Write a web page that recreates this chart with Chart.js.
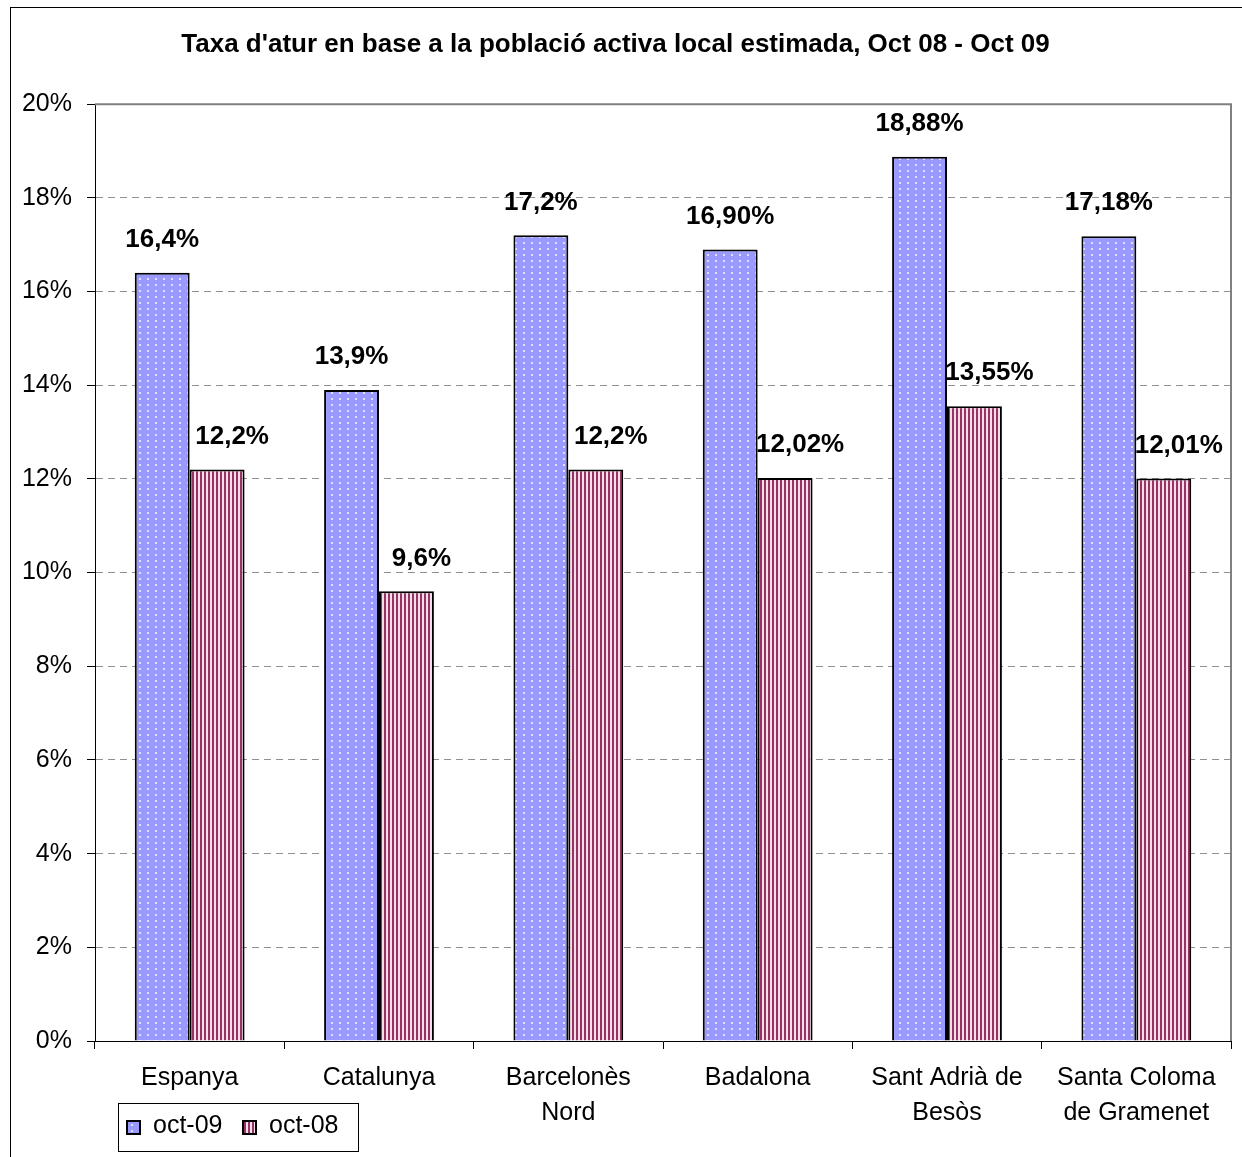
<!DOCTYPE html>
<html>
<head>
<meta charset="utf-8">
<script src="https://cdn.jsdelivr.net/npm/chart.js@4.4.1/dist/chart.umd.min.js"></script>
<style>
	html, body { margin: 0; padding: 0; background: #fff; }
	#wrap { width: 1242px; height: 1157px; }
</style>
</head>
<body>
<div id="wrap"><canvas id="aturChart" width="1242" height="1157"></canvas></div>
<script>
// dades
const categories = [['Espanya'], ['Catalunya'], ['Barcelonès', 'Nord'], ['Badalona'], ['Sant Adrià de', 'Besòs'], ['Santa Coloma', 'de Gramenet']];
const oct09 = [16.4, 13.9, 17.2, 16.9, 18.88, 17.18];
const oct08 = [12.2, 9.6, 12.2, 12.02, 13.55, 12.01];
const oct09Labels = ['16,4%', '13,9%', '17,2%', '16,90%', '18,88%', '17,18%'];
const oct08Labels = ['12,2%', '9,6%', '12,2%', '12,02%', '13,55%', '12,01%'];
const seriesNames = ['oct-09', 'oct-08'];
const titleText = "Taxa d'atur en base a la població activa local estimada, Oct 08 - Oct 09";

const FONT = "'Liberation Sans', Arial, sans-serif";

// patrons de farciment
function dotPattern() {
	const c = document.createElement('canvas');
	c.width = 8; c.height = 6;
	const g = c.getContext('2d');
	g.fillStyle = '#9999ff';
	g.fillRect(0, 0, 8, 6);
	g.fillStyle = 'rgba(255,255,255,0.7)';
	g.fillRect(3, 2, 2, 2);
	return g.createPattern(c, 'repeat');
}
function stripePattern() {
	const c = document.createElement('canvas');
	c.width = 4; c.height = 4;
	const g = c.getContext('2d');
	g.fillStyle = '#f3dde8';
	g.fillRect(0, 0, 4, 4);
	g.fillStyle = '#993366';
	g.fillRect(0, 0, 2, 4);
	return g.createPattern(c, 'repeat');
}
const fill09 = dotPattern();
const fill08 = stripePattern();

// marc exterior i vora de l'àrea de dibuix
const framePlugin = {
	id: 'frame',
	beforeDraw(chart) {
		const ctx = chart.ctx;
		ctx.save();
		ctx.fillStyle = '#fff';
		ctx.fillRect(0, 0, chart.width, chart.height);
		ctx.strokeStyle = '#000';
		ctx.lineWidth = 1;
		ctx.strokeRect(10.5, 7.5, 1400, 1400);
		ctx.restore();
	},
	beforeDatasetsDraw(chart) {
		const a = chart.chartArea;
		const ctx = chart.ctx;
		ctx.save();
		ctx.strokeStyle = '#808080';
		ctx.lineWidth = 2;
		ctx.beginPath();
		ctx.moveTo(a.left, a.top);
		ctx.lineTo(a.right, a.top);
		ctx.lineTo(a.right, a.bottom);
		ctx.stroke();
		ctx.restore();
	}
};

// etiquetes de valor sobre les barres
const valueLabelPlugin = {
	id: 'valueLabels',
	afterDatasetsDraw(chart) {
		const ctx = chart.ctx;
		const texts = [oct09Labels, oct08Labels];
		const shift = [0, 15];
		ctx.save();
		ctx.font = 'bold 26px ' + FONT;
		ctx.fillStyle = '#000';
		ctx.textAlign = 'center';
		ctx.textBaseline = 'middle';
		chart.data.datasets.forEach((ds, i) => {
			chart.getDatasetMeta(i).data.forEach((bar, j) => {
				ctx.fillText(texts[i][j], bar.x + shift[i], bar.y - 33);
			});
		});
		ctx.restore();
	}
};

// llegenda amb caixa
const boxLegendPlugin = {
	id: 'boxLegend',
	afterDraw(chart) {
		const ctx = chart.ctx;
		ctx.save();
		ctx.strokeStyle = '#000';
		ctx.lineWidth = 1;
		ctx.strokeRect(118.5, 1103.5, 240, 48);
		const marks = [127, 243];
		const fills = [fill09, fill08];
		ctx.font = '25px ' + FONT;
		ctx.textBaseline = 'middle';
		ctx.textAlign = 'left';
		seriesNames.forEach((name, i) => {
			ctx.fillStyle = fills[i];
			ctx.fillRect(marks[i], 1121, 13, 13);
			ctx.lineWidth = 2;
			ctx.strokeRect(marks[i], 1121, 13, 13);
			ctx.fillStyle = '#000';
			ctx.fillText(name, marks[i] + 26, 1126);
		});
		ctx.restore();
	}
};

const ctx = document.getElementById('aturChart').getContext('2d');
new Chart(ctx, {
	type: 'bar',
	data: {
		labels: categories,
		datasets: [
			{
				label: seriesNames[0],
				data: oct09,
				backgroundColor: fill09,
				borderColor: '#000',
				borderWidth: 2,
				borderSkipped: 'bottom'
			},
			{
				label: seriesNames[1],
				data: oct08,
				backgroundColor: fill08,
				borderColor: '#000',
				borderWidth: 2,
				borderSkipped: 'bottom'
			}
		]
	},
	options: {
		responsive: false,
		animation: false,
		events: [],
		layout: { padding: { left: 0, right: 11, top: 0, bottom: 0 } },
		datasets: { bar: { categoryPercentage: 0.58, barPercentage: 1.0 } },
		plugins: {
			legend: { display: false },
			tooltip: { enabled: false },
			title: {
				display: true,
				text: titleText,
				color: '#000',
				font: { family: FONT, size: 26, weight: 'bold', lineHeight: 1.2 },
				padding: { top: 29, bottom: 44 }
			}
		},
		scales: {
			y: {
				min: 0,
				max: 20,
				afterFit: scale => { scale.width = 95; },
				ticks: {
					stepSize: 2,
					color: '#000',
					padding: 15,
					font: { family: FONT, size: 25 },
					callback: v => v + '%'
				},
				grid: {
					color: c => (c.tick && (c.tick.value === 0 || c.tick.value === 20)) ? 'rgba(0,0,0,0)' : '#909090',
					tickColor: '#000',
					tickLength: 8,
					lineWidth: 1
				},
				border: { color: '#000', width: 1, dash: [7, 5] }
			},
			x: {
				afterFit: scale => { scale.height = 116; },
				ticks: {
					color: '#000',
					padding: 12,
					maxRotation: 0,
					autoSkip: false,
					font: { family: FONT, size: 25, lineHeight: 1.4 }
				},
				grid: {
					drawOnChartArea: false,
					offset: true,
					tickColor: '#000',
					tickLength: 8
				},
				border: { color: '#000', width: 1 }
			}
		}
	},
	plugins: [framePlugin, valueLabelPlugin, boxLegendPlugin]
});
</script>
</body>
</html>
